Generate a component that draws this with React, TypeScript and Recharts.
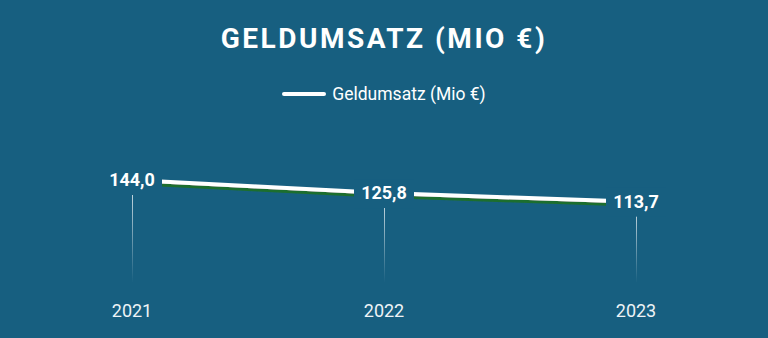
import { ComposedChart, Line, Bar, XAxis, YAxis, Legend, LabelList } from 'recharts';

const years = ['2021', '2022', '2023'];
const geldumsatz = [144.0, 125.8, 113.7];

const data = years.map((year, i) => ({ year, value: geldumsatz[i] }));

const BG = '#175f80';
const SHADOW = '#1f6e2e';
const FONT = 'Roboto, "Noto Sans", sans-serif';

const fmt = (v: number) => v.toFixed(1).replace('.', ',');

function ValueLabel(props: any) {
  const { x, y, value } = props;
  if (x == null || y == null) return null;
  const w = 60;
  return (
    <g>
      <rect x={x - w / 2} y={y - 14} width={w} height={29} fill={BG} />
      <text
        x={x}
        y={y}
        dy="0.35em"
        textAnchor="middle"
        fill="#ffffff"
        fontSize={18}
        fontWeight={700}
        fontFamily={FONT}
      >
        {fmt(Number(value))}
      </text>
    </g>
  );
}

function LegendContent() {
  return (
    <div
      style={{
        display: 'flex',
        justifyContent: 'center',
        alignItems: 'center',
        gap: 6,
        color: '#ffffff',
        fontFamily: FONT,
        fontSize: 17.5,
      }}
    >
      <span
        style={{
          display: 'inline-block',
          width: 44,
          height: 4,
          borderRadius: 2,
          background: '#ffffff',
        }}
      />
      <span>Geldumsatz (Mio €)</span>
    </div>
  );
}

export default function App() {
  return (
    <div
      style={{
        position: 'absolute',
        left: 0,
        top: 0,
        width: 768,
        height: 338,
        background: BG,
        overflow: 'hidden',
      }}
    >
      <style>{`.geld-line .recharts-line-curve { filter: url(#lineShadow); }`}</style>
      <div
        style={{
          position: 'absolute',
          top: 22,
          left: 0,
          width: 768,
          textAlign: 'center',
          color: '#ffffff',
          fontFamily: FONT,
          fontWeight: 700,
          fontSize: 28,
          letterSpacing: 2.5,
        }}
      >
        GELDUMSATZ (MIO €)
      </div>
      <ComposedChart
        width={768}
        height={338}
        data={data}
        margin={{ top: 160, right: 6, bottom: 0, left: 6 }}
      >
        <defs>
          <filter
            id="lineShadow"
            filterUnits="userSpaceOnUse"
            x={0}
            y={0}
            width={768}
            height={338}
          >
            <feDropShadow dx={0} dy={3} stdDeviation={0} floodColor={SHADOW} floodOpacity={1} />
          </filter>
          <linearGradient id="dropLine" x1="0" y1="0" x2="0" y2="1">
            <stop offset="0%" stopColor="#ffffff" stopOpacity={0.85} />
            <stop offset="100%" stopColor="#ffffff" stopOpacity={0} />
          </linearGradient>
        </defs>
        <Legend
          verticalAlign="top"
          content={<LegendContent />}
          wrapperStyle={{ position: 'absolute', top: 84, left: 0, width: 768 }}
        />
        <XAxis
          dataKey="year"
          axisLine={false}
          tickLine={false}
          tickMargin={15}
          height={55}
          tick={{ fill: '#eef3f6', fontSize: 18, fontFamily: FONT }}
        />
        <YAxis hide domain={[0, 'dataMax']} />
        <Bar dataKey="value" barSize={1} fill="url(#dropLine)" isAnimationActive={false} />
        <Line
          className="geld-line"
          type="linear"
          dataKey="value"
          stroke="#ffffff"
          strokeWidth={4}
          dot={false}
          activeDot={false}
          isAnimationActive={false}
        >
          <LabelList dataKey="value" content={<ValueLabel />} />
        </Line>
      </ComposedChart>
    </div>
  );
}
